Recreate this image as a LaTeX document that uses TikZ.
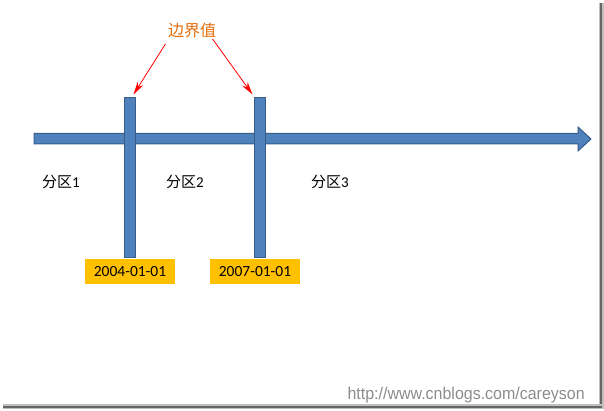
\documentclass[tikz,border=0pt]{standalone}
\usepackage{fontspec}
\setmainfont{Carlito}
\newfontfamily\cjk{Noto Sans CJK SC}
\newfontfamily\wmfont{Liberation Sans}
\usetikzlibrary{arrows.meta}
\definecolor{barblue}{HTML}{4F81BD}
\definecolor{barline}{HTML}{385D8A}
\definecolor{dategold}{HTML}{FFC000}
\definecolor{notered}{HTML}{FF0000}
\definecolor{noteorange}{HTML}{E46C0A}
\tikzset{
	barnode/.style={rectangle, draw=barline, fill=barblue, line width=1pt, minimum width=11pt, minimum height=160pt, inner sep=0pt},
	datenode/.style={rectangle, fill=dategold, minimum width=90pt, minimum height=25pt, inner sep=0pt, font=\fontsize{15.5}{17}\selectfont},
	partnode/.style={font=\fontsize{15}{17}\selectfont},
	redarrow/.style={-{Stealth[length=13pt,width=6.5pt]}, draw=notered, line width=0.8pt}
}

\begin{document}
\begin{tikzpicture}[x=1pt,y=1pt]
		\useasboundingbox (0,0) rectangle (604,411);
		%shadow frame
		\fill[black!25] (599,2) rectangle (604,408);
		\fill[black!60] (600,3) rectangle (602,408);
		\fill[black!25] (3,2) rectangle (604,7);
		\fill[black!60] (3,3) rectangle (602,5);
		
		%axis
		\draw[barline, fill=barblue, line width=1pt] (34,267) -- (578,267) -- (578,260) -- (591,272) -- (578,284) -- (578,277.5) -- (34,277.5) -- cycle;
		
		\node[barnode] at (130,233) (b1) {};
		\node[barnode] at (260,233) (b2) {};
		\node[datenode] at (130,139.5) (d1) {2004-01-01};
		\node[datenode] at (255,139.5) (d2) {2007-01-01};
		\node[partnode] at (61,229) (p1) {{\cjk 分区}1};
		\node[partnode] at (185,229) (p2) {{\cjk 分区}2};
		\node[partnode] at (330,229) (p3) {{\cjk 分区}3};
		\node[text=noteorange, font=\cjk\fontsize{16}{18}\selectfont] at (192,381) (lbl) {边界值};
		\node[anchor=east, text=black!45, font=\wmfont\fontsize{17}{19}\selectfont, xscale=0.94] at (588,16) (wm) {http://www.cnblogs.com/careyson};
		
		%Lines
		\draw[redarrow] ([xshift=1pt,yshift=-3pt]lbl.south west) -- ([xshift=-2.5pt,yshift=3pt]b1.north east);
		\draw[redarrow] ([xshift=-7pt,yshift=2pt]lbl.south east) -- ([xshift=-1.5pt,yshift=3pt]b2.north west);
	\end{tikzpicture}
\end{document}
